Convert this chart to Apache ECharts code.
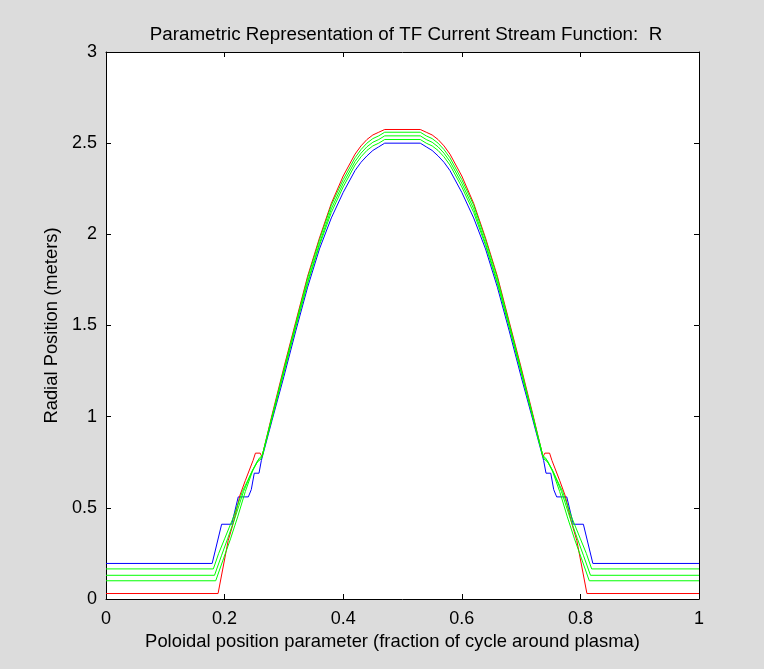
<!DOCTYPE html>
<html>
<head>
<meta charset="utf-8">
<script src="https://cdn.jsdelivr.net/npm/echarts@6/dist/echarts.min.js"></script>
<style>
  html, body { margin: 0; padding: 0; background: #dcdcdc; }
  #chart { width: 764px; height: 669px; }
</style>
</head>
<body>
<div id="chart"></div>
<script>
// Axis ticks
const xTicks = [0, 0.2, 0.4, 0.6, 0.8, 1];
const yTicks = [0, 0.5, 1, 1.5, 2, 2.5, 3];

// R(s) traces, [poloidal parameter, radial position] pairs
const rBlue = [
  [0, 0.195], [0.179, 0.195], [0.195, 0.41], [0.212, 0.41], [0.223, 0.56], [0.240, 0.56],
  [0.245, 0.60], [0.250, 0.69], [0.258, 0.69], [0.262, 0.76], [0.28, 0.98], [0.30, 1.22],
  [0.32, 1.47], [0.34, 1.71], [0.36, 1.92], [0.38, 2.09], [0.40, 2.23], [0.42, 2.35],
  [0.43, 2.395], [0.44, 2.43], [0.45, 2.46], [0.46, 2.48], [0.47, 2.50], [0.53, 2.50],
  [0.54, 2.48], [0.55, 2.46], [0.56, 2.43], [0.57, 2.395], [0.58, 2.35], [0.60, 2.23],
  [0.62, 2.09], [0.64, 1.92], [0.66, 1.71], [0.68, 1.47], [0.70, 1.22], [0.72, 0.98],
  [0.738, 0.76], [0.742, 0.69], [0.750, 0.69], [0.755, 0.60], [0.760, 0.56], [0.777, 0.56],
  [0.788, 0.41], [0.805, 0.41], [0.821, 0.195], [1, 0.195]
];

const rRed = [
  [0, 0.03], [0.189, 0.03], [0.206, 0.32], [0.215, 0.42], [0.226, 0.57], [0.235, 0.65],
  [0.248, 0.76], [0.252, 0.80], [0.260, 0.80], [0.263, 0.78], [0.28, 1.01], [0.30, 1.27],
  [0.32, 1.52], [0.34, 1.77], [0.36, 1.98], [0.38, 2.17], [0.40, 2.32], [0.42, 2.44],
  [0.43, 2.485], [0.44, 2.52], [0.45, 2.545], [0.46, 2.56], [0.47, 2.575], [0.53, 2.575],
  [0.54, 2.56], [0.55, 2.545], [0.56, 2.52], [0.57, 2.485], [0.58, 2.44], [0.60, 2.32],
  [0.62, 2.17], [0.64, 1.98], [0.66, 1.77], [0.68, 1.52], [0.70, 1.27], [0.72, 1.01],
  [0.737, 0.78], [0.740, 0.80], [0.748, 0.80], [0.752, 0.76], [0.765, 0.65], [0.774, 0.57],
  [0.785, 0.42], [0.794, 0.32], [0.811, 0.03], [1, 0.03]
];

const rGreen1 = [
  [0, 0.165], [0.181, 0.165], [0.19, 0.25], [0.20, 0.33], [0.215, 0.45], [0.23, 0.59],
  [0.245, 0.69], [0.255, 0.75], [0.262, 0.77], [0.28, 0.99], [0.30, 1.24], [0.32, 1.49],
  [0.34, 1.73], [0.36, 1.94], [0.38, 2.12], [0.40, 2.26], [0.42, 2.38], [0.43, 2.425],
  [0.44, 2.46], [0.45, 2.485], [0.46, 2.50], [0.47, 2.52], [0.53, 2.52], [0.54, 2.50],
  [0.55, 2.485], [0.56, 2.46], [0.57, 2.425], [0.58, 2.38], [0.60, 2.26], [0.62, 2.12],
  [0.64, 1.94], [0.66, 1.73], [0.68, 1.49], [0.70, 1.24], [0.72, 0.99], [0.738, 0.77],
  [0.745, 0.75], [0.755, 0.69], [0.77, 0.59], [0.785, 0.45], [0.80, 0.33], [0.81, 0.25],
  [0.819, 0.165], [1, 0.165]
];

const rGreen2 = [
  [0, 0.13], [0.183, 0.13], [0.195, 0.24], [0.205, 0.33], [0.218, 0.45], [0.232, 0.59],
  [0.246, 0.70], [0.256, 0.76], [0.263, 0.78], [0.28, 1.00], [0.30, 1.25], [0.32, 1.50],
  [0.34, 1.74], [0.36, 1.95], [0.38, 2.14], [0.40, 2.28], [0.42, 2.40], [0.43, 2.445],
  [0.44, 2.48], [0.45, 2.505], [0.46, 2.52], [0.47, 2.54], [0.53, 2.54], [0.54, 2.52],
  [0.55, 2.505], [0.56, 2.48], [0.57, 2.445], [0.58, 2.40], [0.60, 2.28], [0.62, 2.14],
  [0.64, 1.95], [0.66, 1.74], [0.68, 1.50], [0.70, 1.25], [0.72, 1.00], [0.737, 0.78],
  [0.744, 0.76], [0.754, 0.70], [0.768, 0.59], [0.782, 0.45], [0.795, 0.33], [0.805, 0.24],
  [0.817, 0.13], [1, 0.13]
];

const rGreen3 = [
  [0, 0.10], [0.185, 0.10], [0.198, 0.22], [0.21, 0.33], [0.222, 0.45], [0.235, 0.59],
  [0.248, 0.71], [0.258, 0.77], [0.264, 0.79], [0.28, 1.00], [0.30, 1.26], [0.32, 1.51],
  [0.34, 1.76], [0.36, 1.97], [0.38, 2.16], [0.40, 2.30], [0.42, 2.42], [0.43, 2.465],
  [0.44, 2.50], [0.45, 2.525], [0.46, 2.54], [0.47, 2.56], [0.53, 2.56], [0.54, 2.54],
  [0.55, 2.525], [0.56, 2.50], [0.57, 2.465], [0.58, 2.42], [0.60, 2.30], [0.62, 2.16],
  [0.64, 1.97], [0.66, 1.76], [0.68, 1.51], [0.70, 1.26], [0.72, 1.00], [0.736, 0.79],
  [0.742, 0.77], [0.752, 0.71], [0.765, 0.59], [0.778, 0.45], [0.79, 0.33], [0.802, 0.22],
  [0.815, 0.10], [1, 0.10]
];

const FONT = '"Liberation Sans", Arial, sans-serif';
const axisLine = { show: true, onZero: false, lineStyle: { color: '#000', width: 1 } };
const tick = { show: true, inside: true, length: 5, lineStyle: { color: '#000' } };

function trace(data, color, z) {
  return {
    type: 'line', data: data, showSymbol: false, symbol: 'none', z: z,
    lineStyle: { color: color, width: 1 }, animation: false
  };
}

const chart = echarts.init(document.getElementById('chart'), null, { renderer: 'canvas' });
chart.setOption({
  backgroundColor: '#dcdcdc',
  animation: false,
  title: {
    text: 'Parametric Representation of TF Current Stream Function:  R',
    left: 401, top: 20, textAlign: 'center',
    textStyle: { fontFamily: FONT, fontSize: 18.8, fontWeight: 'normal', color: '#000' }
  },
  grid: { left: 106, top: 52, right: 65, bottom: 70, show: true, backgroundColor: '#fff', borderWidth: 0 },
  xAxis: [
    {
      type: 'value', min: xTicks[0], max: xTicks[xTicks.length - 1], interval: 0.2,
      position: 'bottom', axisLine: axisLine, axisTick: tick, splitLine: { show: false },
      axisLabel: { fontFamily: FONT, fontSize: 18, color: '#000', margin: 11 },
      name: 'Poloidal position parameter (fraction of cycle around plasma)',
      nameLocation: 'middle', nameGap: 34,
      nameTextStyle: { fontFamily: FONT, fontSize: 18.4, color: '#000', padding: [0, 20, 0, 0] }
    },
    {
      type: 'value', min: xTicks[0], max: xTicks[xTicks.length - 1], interval: 0.2,
      position: 'top', axisLine: axisLine, axisTick: tick, splitLine: { show: false },
      axisLabel: { show: false }
    }
  ],
  yAxis: [
    {
      type: 'value', min: yTicks[0], max: yTicks[yTicks.length - 1], interval: 0.5,
      position: 'left', axisLine: axisLine, axisTick: tick, splitLine: { show: false },
      axisLabel: { fontFamily: FONT, fontSize: 18, color: '#000', margin: 9 },
      name: 'Radial Position (meters)', nameLocation: 'middle', nameGap: 45,
      nameTextStyle: { fontFamily: FONT, fontSize: 18.4, color: '#000' }
    },
    {
      type: 'value', min: yTicks[0], max: yTicks[yTicks.length - 1], interval: 0.5,
      position: 'right', axisLine: axisLine, axisTick: tick, splitLine: { show: false },
      axisLabel: { show: false }
    }
  ],
  series: [
    trace(rBlue, '#0000ff', 2),
    trace(rRed, '#ff0000', 2),
    trace(rGreen1, '#00ff00', 3),
    trace(rGreen2, '#00ff00', 3),
    trace(rGreen3, '#00ff00', 3)
  ]
});
</script>
</body>
</html>
